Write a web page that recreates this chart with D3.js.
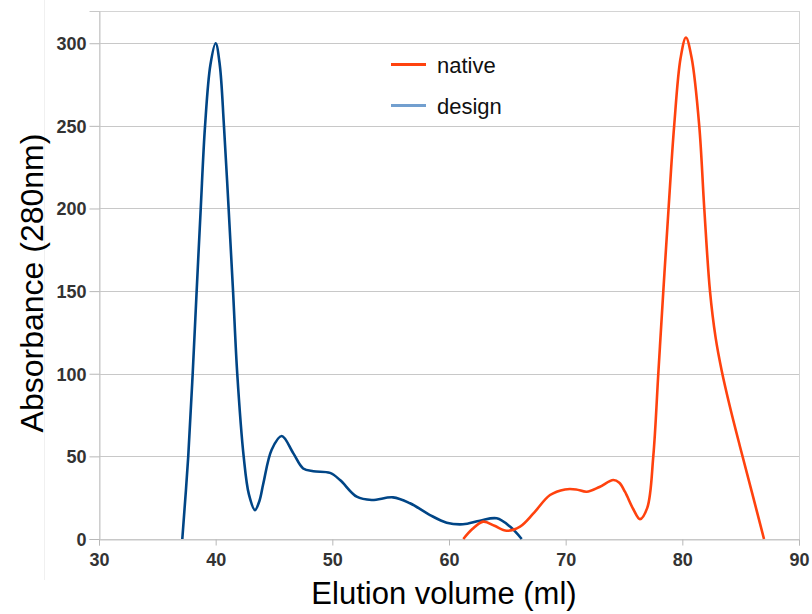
<!DOCTYPE html>
<html>
<head>
<meta charset="utf-8">
<script src="https://cdn.jsdelivr.net/npm/d3@7"></script>
<style>
  html, body { margin: 0; padding: 0; background: #fff; }
  svg { display: block; }
</style>
</head>
<body>
<svg id="chart" width="812" height="614"></svg>
<script>
// ---- data ----
const xTicks = [30, 40, 50, 60, 70, 80, 90];
const yTicks = [0, 50, 100, 150, 200, 250, 300];

const designVolume = [37.14, 37.65, 38.03, 38.37, 38.72, 39.09, 39.55, 40.0, 40.35, 40.71, 41.11, 41.49, 41.85, 42.4, 42.85, 43.37, 43.75, 44.09, 44.8, 45.66, 46.66, 47.5, 48.37, 49.8, 50.66, 52.09, 53.37, 55.2, 56.66, 58.37, 59.8, 61.2, 62.66, 64.09, 65.23, 66.23];
const designAbs    = [0, 50, 100, 150, 200, 250, 287, 300, 287, 250, 200, 150, 100, 50, 27, 17.5, 23, 33.7, 54, 62.3, 51.8, 42.7, 41, 40, 35.7, 25.6, 23.6, 25.2, 21.6, 14.5, 9.9, 8.9, 11.1, 12.5, 7.5, 0];

const nativeVolume = [61.23, 62.0, 62.94, 63.9, 64.94, 66.09, 67.3, 68.66, 69.94, 70.9, 71.8, 72.9, 74.08, 74.6, 75.08, 75.8, 76.37, 77.0, 77.51, 77.94, 78.37, 78.82, 79.3, 79.85, 80.31, 80.8, 81.45, 81.88, 82.37, 82.85, 83.37, 84.08, 84.94, 85.94, 87.0];
const nativeAbs    = [0, 6, 10.5, 8, 5, 7.5, 16, 26.6, 30, 30, 28.6, 31.5, 35.7, 34, 28.6, 18, 12, 19, 50, 100, 150, 200, 250, 291, 303.5, 291, 250, 200, 150, 122, 102, 80, 56, 29, 0];

const seriesNames = ["native", "design"];

// ---- layout ----
const svg = d3.select("#chart");
const pLeft = 99, pRight = 799, pTop = 11, pBottom = 539;

const x = d3.scaleLinear().domain([30, 90]).range([pLeft, pRight]);
const y = d3.scaleLinear().domain([0, 319.5]).range([pBottom, pTop]);

// faint image edge
svg.append("line").attr("x1", 44.5).attr("x2", 44.5).attr("y1", 0).attr("y2", 580)
  .attr("stroke", "#f0f0f0").attr("stroke-width", 1);

// frame
svg.append("rect").attr("x", pLeft + 0.5).attr("y", pTop + 0.5)
  .attr("width", pRight - pLeft).attr("height", pBottom - pTop)
  .attr("fill", "none").attr("stroke", "#d4d4d4").attr("stroke-width", 1);

// grid
svg.append("g").selectAll("line").data(yTicks).join("line")
  .attr("x1", pLeft).attr("x2", pRight)
  .attr("y1", d => Math.round(y(d)) + 0.5).attr("y2", d => Math.round(y(d)) + 0.5)
  .attr("stroke", "#c8c8c8").attr("stroke-width", 1);

// axes
const yAxis = d3.axisLeft(y).tickValues(yTicks).tickSize(10).tickPadding(3);
const gy = svg.append("g").attr("transform", `translate(${pLeft + 0.5},0)`).call(yAxis);
const xAxis = d3.axisBottom(x).tickValues(xTicks).tickSize(6).tickPadding(8);
const gx = svg.append("g").attr("transform", `translate(0,${pBottom + 0.5})`).call(xAxis);

[gy, gx].forEach(g => {
  g.select(".domain").attr("stroke", "#c8c8c8");
  g.selectAll(".tick line").attr("stroke", "#b8b8b8");
  g.selectAll(".tick text")
    .attr("fill", "#333")
    .style("font-family", "'Liberation Sans Narrow', 'Liberation Sans', Arial, sans-serif")
    .style("font-weight", "bold")
    .style("font-size", "18px");
});
gy.selectAll(".tick text").attr("dy", "0.36em");

// lines
const line = d3.line().x(d => x(d[0])).y(d => y(d[1])).curve(d3.curveCatmullRom.alpha(0.5));

svg.append("path")
  .datum(designVolume.map((v, i) => [v, designAbs[i]]))
  .attr("d", line).attr("fill", "none")
  .attr("stroke", "#004586").attr("stroke-width", 2.6).attr("stroke-linejoin", "round");

svg.append("path")
  .datum(nativeVolume.map((v, i) => [v, nativeAbs[i]]))
  .attr("d", line).attr("fill", "none")
  .attr("stroke", "#ff420e").attr("stroke-width", 2.6).attr("stroke-linejoin", "round");

// legend
const legendColors = ["#ff420e", "#729fcf"];
const lg = svg.append("g");
seriesNames.forEach((name, i) => {
  const yy = 64.5 + i * 41;
  lg.append("line").attr("x1", 391).attr("x2", 426).attr("y1", yy).attr("y2", yy)
    .attr("stroke", legendColors[i]).attr("stroke-width", 3);
  lg.append("text").attr("x", 437).attr("y", yy + 8)
    .style("font-family", "'Liberation Sans', Arial, sans-serif")
    .style("font-size", "22px").attr("fill", "#111").text(name);
});

// axis titles
svg.append("text")
  .attr("transform", `translate(43,283) rotate(-90)`)
  .attr("text-anchor", "middle")
  .style("font-family", "'Liberation Sans', Arial, sans-serif")
  .style("font-size", "32px").attr("fill", "#000")
  .text("Absorbance (280nm)");

svg.append("text")
  .attr("x", 444).attr("y", 604)
  .attr("text-anchor", "middle")
  .style("font-family", "'Liberation Sans', Arial, sans-serif")
  .style("font-size", "31px").attr("fill", "#000")
  .text("Elution volume (ml)");
</script>
</body>
</html>
